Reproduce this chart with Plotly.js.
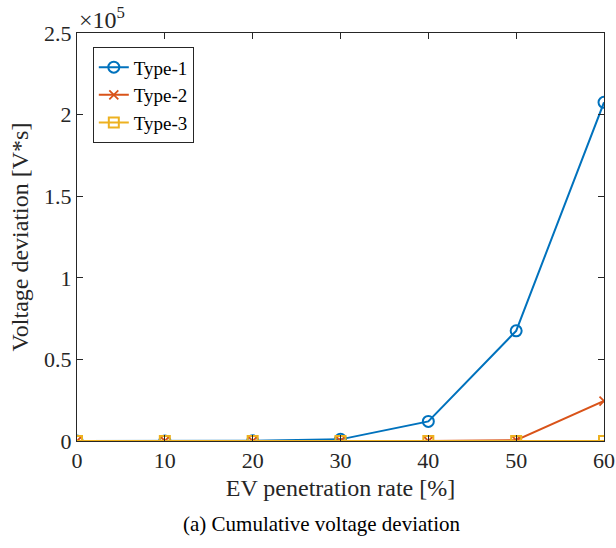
<!DOCTYPE html>
<html><head><meta charset="utf-8">
<script src="https://cdn.plot.ly/plotly-3.0.1.min.js"></script>
<style>body{margin:0;background:#fff}#c{width:616px;height:548px}</style>
</head><body><div id="c"></div>
<script>
const penetration = [0, 10, 20, 30, 40, 50, 60];
const type1 = [0, 0, 0.001, 0.01, 0.12, 0.675, 2.075];
const type2 = [0, 0, 0, 0, 0, 0.005, 0.245];
const type3 = [0, 0, 0, 0, 0, 0, 0];
const yTicks = [0, 0.5, 1, 1.5, 2, 2.5];
const yTickText = ['0', '0.5', '1', '1.5', '2', '2.5'];
const xTicks = [0, 10, 20, 30, 40, 50, 60];

const font = 'Liberation Serif, Times New Roman, serif';
const traces = [
  {x: penetration, y: type1, name: 'Type-1', mode: 'lines+markers',
   line: {color: '#0072BD', width: 2},
   marker: {symbol: 'circle-open', size: 11, color: '#0072BD', line: {width: 2}}},
  {x: penetration, y: type2, name: 'Type-2', mode: 'lines+markers',
   line: {color: '#D95319', width: 2},
   marker: {symbol: 'x-thin-open', size: 9, color: '#D95319', line: {width: 1.8, color: '#D95319'}}},
  {x: penetration, y: type3, name: 'Type-3', mode: 'lines+markers',
   line: {color: '#EDB120', width: 2},
   marker: {symbol: 'square-open', size: 10, color: '#EDB120', line: {width: 2}}}
];
const layout = {
  width: 616, height: 548,
  margin: {l: 77, r: 12, t: 33, b: 107},
  paper_bgcolor: '#fff', plot_bgcolor: '#fff',
  font: {family: font, size: 22, color: '#262626'},
  showlegend: true,
  legend: {x: 0.03, y: 0.965, xanchor: 'left', yanchor: 'top',
    bordercolor: '#262626', borderwidth: 1, bgcolor: '#fff',
    font: {family: font, size: 19, color: '#000'}, tracegroupgap: 0},
  xaxis: {range: [0, 60], tickvals: xTicks, ticks: 'inside', ticklen: 6,
    tickcolor: '#262626', showline: true, linecolor: '#262626', linewidth: 1,
    mirror: 'ticks', showgrid: false, zeroline: false,
    tickfont: {family: font, size: 22, color: '#262626'},
    title: {text: 'EV penetration rate [%]', font: {family: font, size: 24, color: '#262626'}, standoff: 6}},
  yaxis: {range: [0, 2.5], tickvals: yTicks, ticktext: yTickText, ticks: 'inside', ticklen: 6,
    tickcolor: '#262626', showline: true, linecolor: '#262626', linewidth: 1,
    mirror: 'ticks', showgrid: false, zeroline: false,
    tickfont: {family: font, size: 22, color: '#262626'},
    title: {text: 'Voltage deviation [V*s]', font: {family: font, size: 24, color: '#262626'}, standoff: 8}},
  annotations: [
    {xref: 'paper', yref: 'paper', x: 0.0, y: 1.0, xanchor: 'left', yanchor: 'bottom', yshift: -2,
     text: '×10<sup>5</sup>', showarrow: false, font: {family: font, size: 24, color: '#262626'}},
    {xref: 'paper', yref: 'paper', x: 0.463, y: -0.168, xanchor: 'center', yanchor: 'top',
     text: '(a) Cumulative voltage deviation', showarrow: false, font: {family: font, size: 21, color: '#000'}}
  ]
};
Plotly.newPlot('c', traces, layout, {displayModeBar: false, staticPlot: true});
</script></body></html>
